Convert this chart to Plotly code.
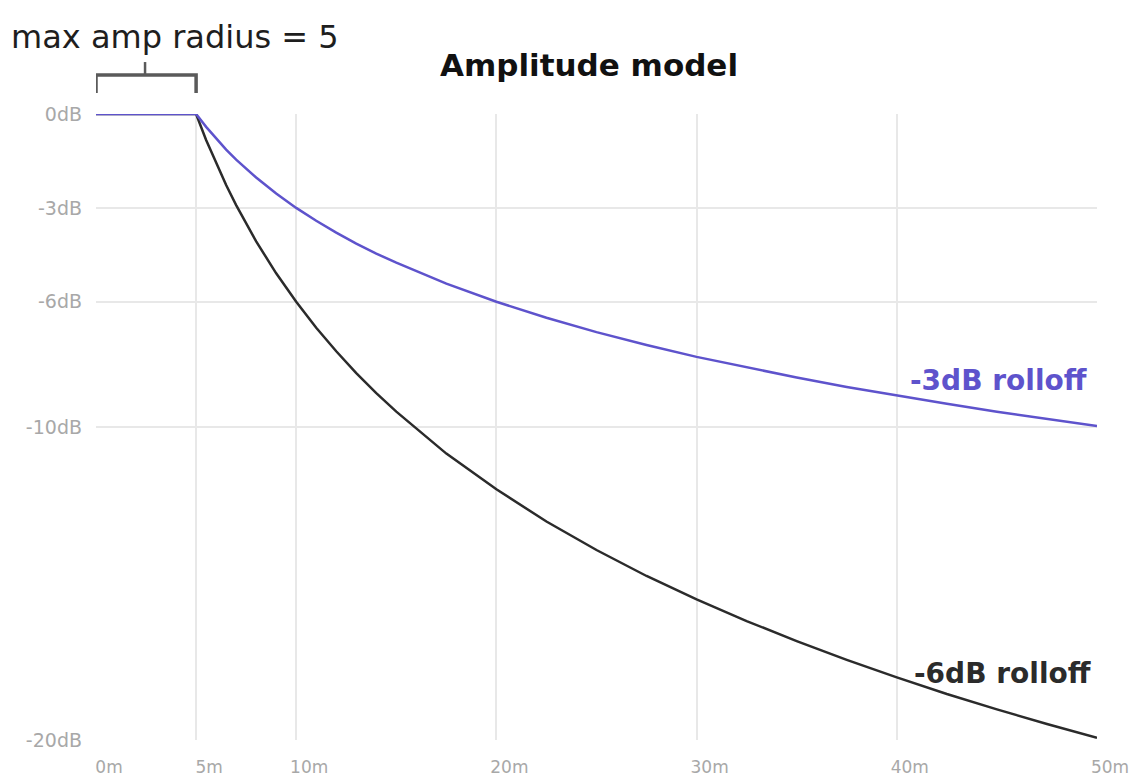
import plotly.graph_objects as go

distance_m = [0, 5, 5.5, 6, 6.5, 7, 7.5, 8, 9, 10, 11, 12, 13, 14, 15, 17.5, 20, 22.5, 25,
              27.5, 30, 32.5, 35, 37.5, 40, 42.5, 45, 47.5, 50]
rolloff_3db = [0, 0, -0.41, -0.79, -1.14, -1.46, -1.75, -2.03, -2.54, -3.0, -3.41, -3.79,
               -4.14, -4.46, -4.75, -5.42, -6.0, -6.51, -6.97, -7.38, -7.76, -8.1, -8.42,
               -8.72, -9.0, -9.26, -9.51, -9.74, -9.97]
rolloff_6db = [0, 0, -0.83, -1.58, -2.27, -2.91, -3.51, -4.07, -5.09, -6.0, -6.83, -7.58,
               -8.28, -8.92, -9.51, -10.85, -11.99, -13.02, -13.93, -14.76, -15.51, -16.2,
               -16.84, -17.44, -18.0, -18.53, -19.02, -19.49, -19.93]

x_tickvals = [0, 5, 10, 20, 30, 40, 50]
x_ticktext = ["0m", "5m", "10m", "20m", "30m", "40m", "50m"]
y_tickvals = [0, -3, -6, -10, -20]
y_ticktext = ["0dB", "-3dB", "-6dB", "-10dB", "-20dB"]

FONT = "DejaVu Sans"
BLUE = "#5e53cc"
DARK = "#2b2b2b"
TICK = "#a8a8a8"

fig = go.Figure()
fig.add_trace(go.Scatter(x=distance_m, y=rolloff_6db, mode="lines",
                         line=dict(color=DARK, width=2.5), cliponaxis=False,
                         showlegend=False))
fig.add_trace(go.Scatter(x=distance_m, y=rolloff_3db, mode="lines",
                         line=dict(color=BLUE, width=2.5), cliponaxis=False,
                         showlegend=False))

fig.update_layout(
    width=1137, height=781,
    margin=dict(l=88, r=48, t=106, b=49),
    paper_bgcolor="white", plot_bgcolor="white",
    font=dict(family=FONT),
    title=dict(text="<b>Amplitude model</b>", x=0.511, xanchor="center",
               y=1 - 57 / 781, yanchor="middle",
               font=dict(size=31, color="#111111", family=FONT)),
)
fig.update_xaxes(range=[0, 50], tickvals=x_tickvals, ticktext=x_ticktext,
                 showgrid=True, gridcolor="#e8e8e8", gridwidth=1.5,
                 zeroline=False, showline=False, ticks="",
                 ticklabelshift=13, ticklabelstandoff=15,
                 tickfont=dict(size=17, color=TICK, family=FONT))
fig.update_yaxes(range=[-20, 0], tickvals=y_tickvals, ticktext=y_ticktext,
                 showgrid=True, gridcolor="#e8e8e8", gridwidth=1.5,
                 zeroline=False, showline=False, ticks="", ticklabelstandoff=13,
                 tickfont=dict(size=19, color=TICK, family=FONT))

fig.add_annotation(x=0.811, xref="paper", y=-8.5, yref="y", text="<b>-3dB rolloff</b>",
                   showarrow=False, xanchor="left", yanchor="middle",
                   font=dict(size=28, color=BLUE, family=FONT))
fig.add_annotation(x=0.815, xref="paper", y=-17.86, yref="y", text="<b>-6dB rolloff</b>",
                   showarrow=False, xanchor="left", yanchor="middle",
                   font=dict(size=28, color=DARK, family=FONT))
fig.add_annotation(x=-0.087, xref="paper", y=1.123, yref="paper",
                   text="max amp radius = 5", showarrow=False,
                   xanchor="left", yanchor="middle",
                   font=dict(size=32, color="#1e1e1e", family=FONT))

# bracket above 0..5 m
fig.add_shape(type="path", xref="x", yref="paper",
              path="M 0,1.0335 L 0,1.0623 L 5,1.0623 L 5,1.0335",
              line=dict(color="#5a5a5a", width=3.5))
fig.add_shape(type="line", xref="x", yref="paper", x0=2.45, x1=2.45, y0=1.0623, y1=1.083,
              line=dict(color="#5a5a5a", width=2.5))

fig.write_html("out.html")
